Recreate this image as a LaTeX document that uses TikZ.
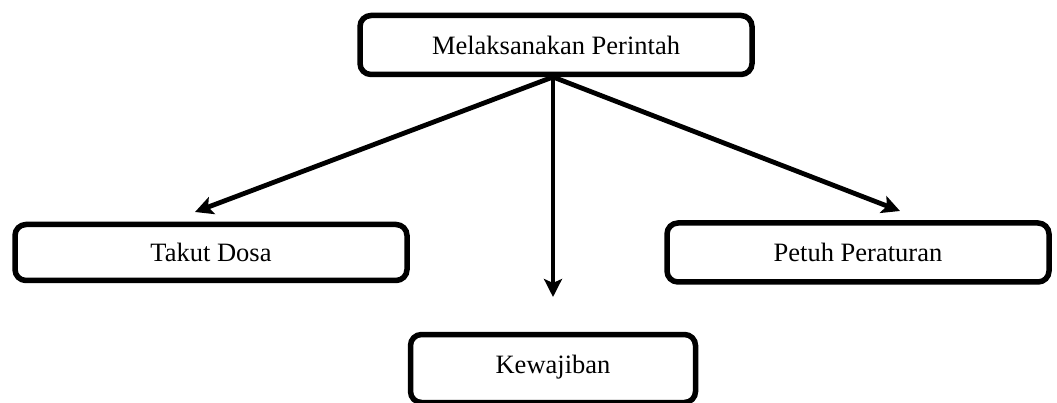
\documentclass[tikz,border=0pt]{standalone}
\usepackage{fontspec}
\setmainfont{Liberation Serif}
\usetikzlibrary{arrows.meta}
\begin{document}
\begin{tikzpicture}[x=1pt,y=-1pt,
  box/.style={draw=black, line width=5.5pt, rounded corners=11pt, fill=white,
    font=\fontsize{26.5}{31}\selectfont, inner sep=0pt},
  link/.style={line width=4.8pt, -{Stealth[length=18pt,width=18pt,inset=4pt]}}]
\useasboundingbox (0,0) rectangle (1057,403);
\clip (0,0) rectangle (1057,403);
% top box
\node[box, minimum width=392pt, minimum height=59pt] (top) at (556,45) {Melaksanakan Perintah};
% branches
\node[box, minimum width=392pt, minimum height=56pt] (left) at (211,252.5) {Takut Dosa};
\node[box, minimum width=382pt, minimum height=59pt] (right) at (858,252.5) {Petuh Peraturan};
\node[box, minimum width=285pt, minimum height=68pt, text depth=9pt] (bottom) at (553,368.5) {Kewajiban};
% arrow origin and tips
\coordinate (hub) at (553,77);
\coordinate (tl) at (195,212);
\coordinate (tr) at (900,211);
\coordinate (tb) at (553,297);
\draw[link] (hub) -- (tl);
\draw[link] (hub) -- (tr);
\draw[link] (hub) -- (tb);
\end{tikzpicture}
\end{document}
